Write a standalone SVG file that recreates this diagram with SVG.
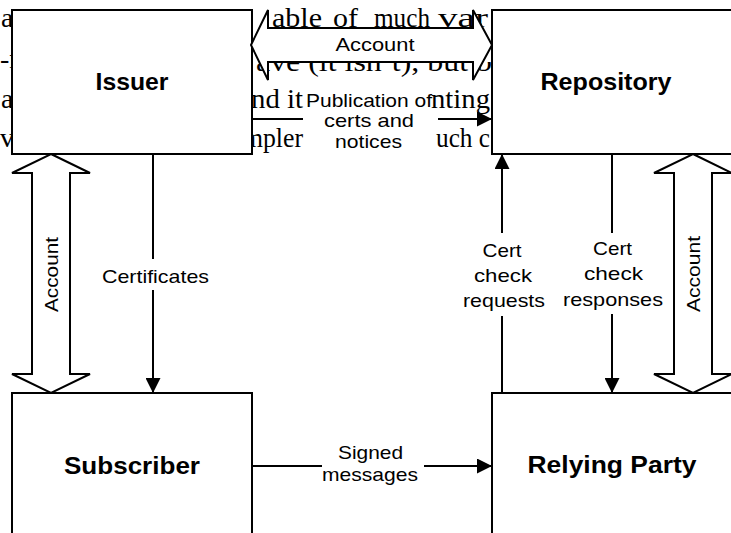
<svg xmlns="http://www.w3.org/2000/svg" width="731" height="533" viewBox="0 0 731 533">
<style>
.bg{font-family:"Liberation Serif","Times New Roman",serif;font-size:28px;fill:#000}
.box{fill:#fff;stroke:#000;stroke-width:2}
.big{fill:#fff;stroke:#000;stroke-width:2;stroke-linejoin:miter}
.t{font-family:"Liberation Sans",Arial,sans-serif;font-size:19px;fill:#000;text-anchor:middle}
.b{font-family:"Liberation Sans",Arial,sans-serif;font-size:24px;font-weight:bold;fill:#000;text-anchor:middle}
.ln{stroke:#000;stroke-width:2;fill:none}
</style>
<defs>
<marker id="ah" markerUnits="userSpaceOnUse" markerWidth="15" markerHeight="15" refX="15" refY="7.5" orient="auto">
<path d="M0,0 L15,7.5 L0,15 z" fill="#000"/>
</marker>
<clipPath id="below-arrow"><rect x="0" y="62" width="731" height="40"/></clipPath>
</defs>
<rect width="731" height="533" fill="#fff"/>
<g id="background-text">
<text class="bg" x="1" y="27">a</text>
<text class="bg" x="272" y="27" textLength="50" lengthAdjust="spacingAndGlyphs">able</text>
<text class="bg" x="333" y="27" textLength="25" lengthAdjust="spacingAndGlyphs">of</text>
<text class="bg" x="374" y="27" textLength="56" lengthAdjust="spacingAndGlyphs">much</text>
<text class="bg" x="438" y="27" textLength="50" lengthAdjust="spacingAndGlyphs">var</text>
<text class="bg" x="0" y="68">-r</text>
<text class="bg" x="256" y="71" clip-path="url(#below-arrow)" textLength="236" lengthAdjust="spacingAndGlyphs">ave (it isn’t), but b</text>
<text class="bg" x="1" y="108">a</text>
<text class="bg" x="251" y="108" textLength="52" lengthAdjust="spacingAndGlyphs">nd it</text>
<text class="bg" x="431" y="108" textLength="59" lengthAdjust="spacingAndGlyphs">nting</text>
<text class="bg" x="0" y="147">v</text>
<text class="bg" x="243" y="147" textLength="60" lengthAdjust="spacingAndGlyphs">mpler</text>
<text class="bg" x="436" y="147" textLength="54" lengthAdjust="spacingAndGlyphs">uch c</text>
</g>
<g id="issuer">
<rect class="box" x="12" y="10" width="240" height="144"/>
<text class="b" x="132" y="90" textLength="73" lengthAdjust="spacingAndGlyphs">Issuer</text>
</g>
<g id="repository">
<rect class="box" x="492" y="10" width="240" height="144"/>
<text class="b" x="606" y="90" textLength="131" lengthAdjust="spacingAndGlyphs">Repository</text>
</g>
<g id="subscriber">
<rect class="box" x="12" y="393" width="240" height="170"/>
<text class="b" x="132" y="474" textLength="136" lengthAdjust="spacingAndGlyphs">Subscriber</text>
</g>
<g id="relying-party">
<rect class="box" x="492" y="393" width="240" height="170"/>
<text class="b" x="612" y="473" textLength="169" lengthAdjust="spacingAndGlyphs">Relying Party</text>
</g>
<g id="connectors">
<polygon class="big" points="251,45 268,10 268,28 473,28 473,10 492,45 473,80 473,62 268,62 268,80"/>
<text class="t" x="375" y="51" textLength="79" lengthAdjust="spacingAndGlyphs">Account</text>
<polygon class="big" points="51,154 90,173 70,173 70,374 90,374 51,393 12,374 32,374 32,173 12,173"/>
<text class="t" transform="translate(58,274.5) rotate(-90)" x="0" y="0" textLength="75" lengthAdjust="spacingAndGlyphs">Account</text>
<polygon class="big" points="693,154 732,173 712,173 712,374 732,374 693,393 654,374 674,374 674,173 654,173"/>
<text class="t" transform="translate(700,274) rotate(-90)" x="0" y="0" textLength="76" lengthAdjust="spacingAndGlyphs">Account</text>
<rect x="304" y="85" width="127" height="68" fill="#fff"/>
<line class="ln" x1="252" y1="119" x2="303" y2="119"/>
<line class="ln" x1="438" y1="119" x2="492" y2="119" marker-end="url(#ah)"/>
<text class="t" x="369" y="107" textLength="126" lengthAdjust="spacingAndGlyphs">Publication of</text>
<text class="t" x="369" y="127" textLength="90" lengthAdjust="spacingAndGlyphs">certs and</text>
<text class="t" x="368.5" y="148" textLength="67" lengthAdjust="spacingAndGlyphs">notices</text>
<line class="ln" x1="153" y1="154" x2="153" y2="259"/>
<line class="ln" x1="153" y1="290" x2="153" y2="393" marker-end="url(#ah)"/>
<text class="t" x="155.5" y="283" textLength="107" lengthAdjust="spacingAndGlyphs">Certificates</text>
<line class="ln" x1="502" y1="393" x2="502" y2="316"/>
<line class="ln" x1="502" y1="233" x2="502" y2="154" marker-end="url(#ah)"/>
<text class="t" x="502" y="257" textLength="39" lengthAdjust="spacingAndGlyphs">Cert</text>
<text class="t" x="503" y="282" textLength="58" lengthAdjust="spacingAndGlyphs">check</text>
<text class="t" x="504" y="307" textLength="82" lengthAdjust="spacingAndGlyphs">requests</text>
<line class="ln" x1="612" y1="154" x2="612" y2="233"/>
<line class="ln" x1="612" y1="314" x2="612" y2="393" marker-end="url(#ah)"/>
<text class="t" x="612.5" y="255" textLength="39" lengthAdjust="spacingAndGlyphs">Cert</text>
<text class="t" x="613.5" y="280" textLength="59" lengthAdjust="spacingAndGlyphs">check</text>
<text class="t" x="613" y="306" textLength="100" lengthAdjust="spacingAndGlyphs">responses</text>
<line class="ln" x1="252" y1="466" x2="322" y2="466"/>
<line class="ln" x1="424" y1="466" x2="492" y2="466" marker-end="url(#ah)"/>
<text class="t" x="370.5" y="459" textLength="65" lengthAdjust="spacingAndGlyphs">Signed</text>
<text class="t" x="370" y="481" textLength="96" lengthAdjust="spacingAndGlyphs">messages</text>
</g>
</svg>
